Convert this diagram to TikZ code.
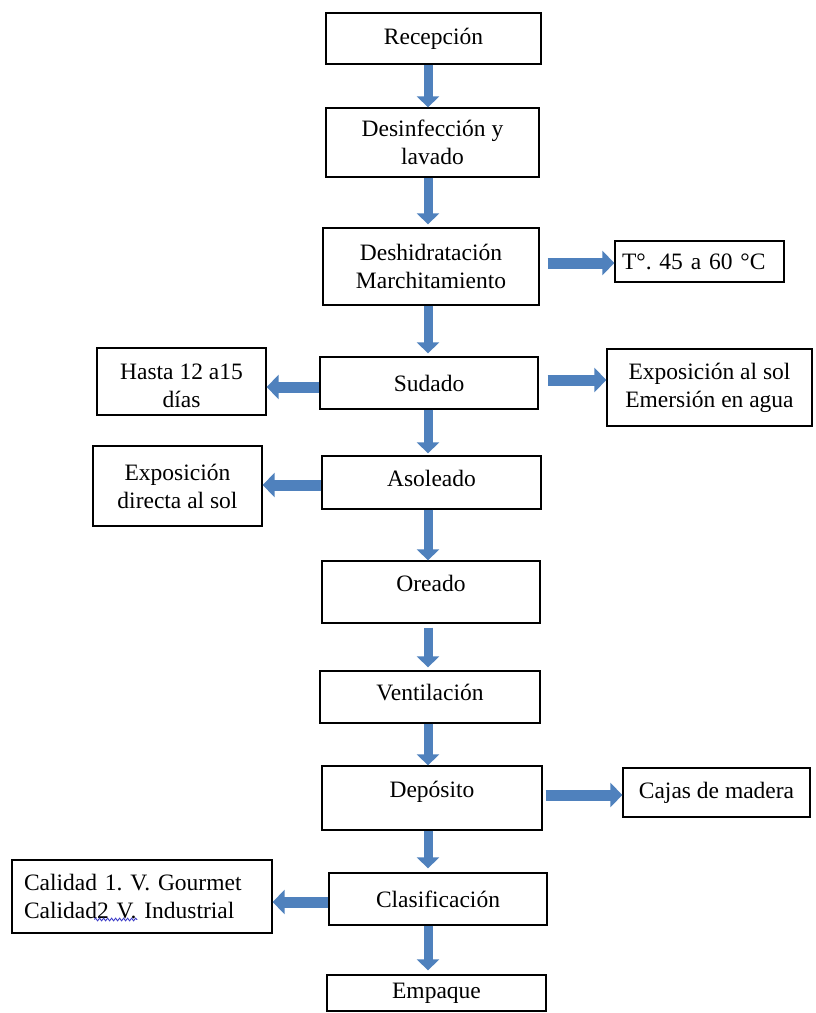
\documentclass[tikz,border=0pt]{standalone}
\usepackage{fontspec}
\setmainfont{Liberation Serif}
\usetikzlibrary{arrows.meta,decorations.pathmorphing}
\definecolor{flowblue}{RGB}{79,129,189}
\definecolor{spellblue}{RGB}{60,60,200}
\frenchspacing

\begin{document}
\begin{tikzpicture}[x=1pt,y=-1pt,
  box/.style={draw=black, line width=1.3pt, fill=white, inner sep=2pt,
    align=center, font=\fontsize{23.5}{28}\selectfont},
  down/.style={draw=flowblue, line width=9pt,
    -{Triangle[width=22pt,length=11pt]}},
  side/.style={draw=flowblue, line width=11pt,
    -{Triangle[width=24pt,length=12pt]}}
]
\useasboundingbox (0,0) rectangle (816,1013);

% vertical axis of the main flow arrows
\coordinate (axis) at (428,0);

% main process steps
\node[box, minimum width=215pt, minimum height=51pt] (rec) at (433.5,38.5) {Recepción};
\node[box, minimum width=213pt, minimum height=69pt] (des) at (432.5,142.5) {Desinfección y\\lavado};
\node[box, minimum width=216pt, minimum height=77pt] (desh) at (431,266.5) {Deshidratación\\Marchitamiento};
\node[box, minimum width=218pt, minimum height=52pt] (sud) at (429,383) {Sudado};
\node[box, minimum width=219pt, minimum height=53pt, text depth=8pt] (aso) at (431.5,482.5) {Asoleado};
\node[box, minimum width=218pt, minimum height=62pt, text depth=18pt] (ore) at (431,592) {Oreado};
\node[box, minimum width=220pt, minimum height=52pt, text depth=10pt] (ven) at (430,697) {Ventilación};
\node[box, minimum width=220pt, minimum height=64pt, text depth=17pt] (dep) at (432,798) {Depósito};
\node[box, minimum width=218pt, minimum height=52pt] (clas) at (438,899) {Clasificación};
\node[box, minimum width=219pt, minimum height=36pt] (emp) at (436.5,993) {Empaque};

% side notes
\node[box, minimum width=169pt, minimum height=41pt, text width=155pt, align=left] (temp) at (699.5,261.5) {T°. 45 a 60 °C};
\node[box, minimum width=169pt, minimum height=67pt, text depth=4pt] (hasta) at (181.5,381.5) {\rule{0pt}{28pt}Hasta 12 a15\\días};
\node[box, minimum width=205pt, minimum height=77pt] (expo) at (709.5,387.5) {Exposición al sol\\Emersión en agua};
\node[box, minimum width=169pt, minimum height=80pt] (expd) at (177.5,486) {Exposición\\directa al sol};
\node[box, minimum width=187pt, minimum height=49pt] (cajas) at (716.5,792.5) {Cajas de madera};
\node[box, minimum width=260pt, minimum height=73pt, text width=236pt, align=left] (cal) at (142,896.5) {Calidad 1. V. Gourmet\\Calidad2 V. Industrial};

% spelling mark under the second quality line
\draw[spellblue, line width=0.9pt, decorate,
  decoration={snake, segment length=4pt, amplitude=1.3pt}]
  ([xshift=83pt, yshift=-23pt]cal.west) -- ([xshift=126pt, yshift=-23pt]cal.west);

% main flow
\draw[down] (rec.south -| axis) -- (des.north -| axis);
\draw[down] (des.south -| axis) -- ([yshift=3pt]desh.north -| axis);
\draw[down] (desh.south -| axis) -- ([yshift=3pt]sud.north -| axis);
\draw[down] (sud.south -| axis) -- ([yshift=2pt]aso.north -| axis);
\draw[down] (aso.south -| axis) -- (ore.north -| axis);
\draw[down, shorten <=4pt] (ore.south -| axis) -- ([yshift=3pt]ven.north -| axis);
\draw[down] (ven.south -| axis) -- (dep.north -| axis);
\draw[down] (dep.south -| axis) -- ([yshift=4pt]clas.north -| axis);
\draw[down] (clas.south -| axis) -- ([yshift=4pt]emp.north -| axis);

% branches
\draw[side, shorten <=8pt] ([yshift=-1.5pt]desh.east |- temp.west) -- ([yshift=-1.5pt]temp.west);
\draw[side] ([yshift=-4pt]sud.west) -- ([yshift=-4pt]sud.west -| hasta.east);
\draw[side, shorten <=9pt] ([yshift=3pt]sud.east) -- ([yshift=3pt]sud.east -| expo.west);
\draw[side] ([yshift=-2.5pt]aso.west) -- ([yshift=-2.5pt]aso.west -| expd.east);
\draw[side, shorten <=3pt] ([yshift=3pt]dep.east) -- ([yshift=3pt]dep.east -| cajas.west);
\draw[side] ([yshift=-3pt]clas.west) -- ([yshift=-3pt]clas.west -| cal.east);
\end{tikzpicture}
\end{document}
